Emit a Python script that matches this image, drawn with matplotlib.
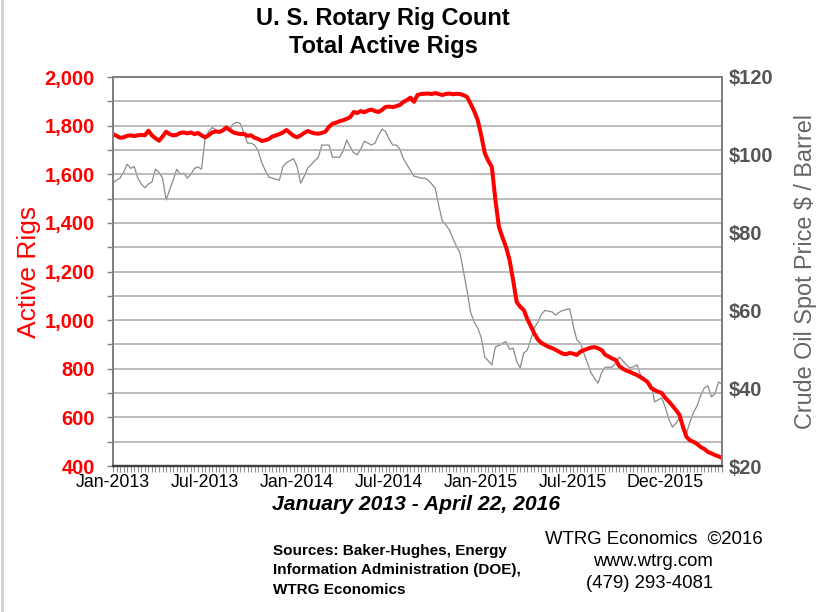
import matplotlib
matplotlib.use("Agg")
import matplotlib.pyplot as plt
import matplotlib.dates as mdates
from matplotlib import font_manager
from matplotlib.lines import Line2D
import pandas as pd

plt.rcParams["font.family"] = ["Liberation Sans", "DejaVu Sans"]

# weekly U.S. rotary rig count, Jan 4 2013 .. Apr 22 2016
rig_count = [
    1765, 1758, 1750, 1752, 1758, 1760, 1757, 1760, 1762, 1760,
    1779, 1760, 1748, 1738, 1755, 1775, 1765, 1760, 1762, 1770,
    1772, 1768, 1772, 1765, 1770, 1760, 1752, 1760, 1772, 1776,
    1774, 1780, 1792, 1782, 1772, 1768, 1765, 1766, 1758, 1760,
    1750, 1745, 1737, 1740, 1745, 1755, 1760, 1765, 1772, 1782,
    1770, 1758, 1752, 1760, 1770, 1778, 1772, 1768, 1767, 1770,
    1775, 1795, 1808, 1812, 1818, 1822, 1828, 1835, 1856, 1852,
    1860, 1855, 1862, 1866, 1860, 1856, 1865, 1877, 1878, 1876,
    1880, 1885, 1897, 1905, 1915, 1898, 1926, 1930, 1931, 1932,
    1930, 1934, 1930, 1926, 1930, 1932, 1929, 1931, 1930, 1925,
    1918, 1890, 1860, 1823, 1760, 1687, 1655, 1630, 1494, 1383,
    1340, 1301, 1247, 1165, 1075, 1055, 1042, 1005, 975, 945,
    920, 906, 898, 890, 885, 878, 870, 862, 860, 865,
    862, 857, 870, 877, 882, 887, 889, 884, 877, 858,
    850, 842, 836, 811, 800, 792, 787, 780, 774, 765,
    756, 745, 721, 712, 705, 700, 680, 665, 648, 630,
    610, 560, 519, 505, 499, 490, 478, 470, 458, 452,
    445, 440, 433,
]

# weekly crude oil spot price, $ / barrel
oil_price = [
    92.7, 93.5, 94.0, 95.5, 97.6, 96.5, 97.0, 94.0, 92.5, 91.5,
    92.5, 93.0, 96.3, 95.5, 94.0, 88.4, 91.0, 93.5, 96.3, 95.0,
    95.3, 94.0, 95.0, 96.5, 96.9, 96.3, 104.0, 106.0, 107.0, 106.5,
    105.6, 106.0, 106.9, 106.5, 108.0, 108.4, 108.0, 105.5, 103.0, 103.0,
    102.5, 101.0, 98.0, 96.0, 94.3, 94.0, 93.7, 93.5, 97.0, 98.0,
    98.5, 99.0, 97.0, 92.7, 94.5, 96.6, 97.5, 98.5, 99.4, 102.5,
    102.5, 102.5, 99.4, 99.4, 99.4, 101.0, 103.8, 102.0, 100.5, 100.0,
    101.5, 103.5, 103.0, 102.5, 103.0, 105.0, 106.6, 106.0, 104.0, 102.5,
    102.5, 101.5, 99.0, 97.5, 96.0, 94.5, 94.3, 94.0, 94.0, 93.5,
    92.5, 91.5, 87.0, 83.0, 82.0, 80.7, 78.5, 76.5, 74.8, 70.0,
    65.0, 59.5, 57.0, 55.5, 53.0, 48.0, 47.0, 46.0, 50.6, 51.0,
    51.5, 52.0, 50.0, 50.3, 47.0, 45.2, 49.0, 49.8, 52.5, 55.5,
    57.0, 59.0, 60.0, 59.8, 59.6, 58.8, 59.5, 60.0, 60.2, 60.4,
    56.0, 52.4, 51.6, 49.0, 46.5, 44.0, 42.5, 41.3, 44.0, 45.4,
    45.4, 45.4, 46.5, 48.0, 47.0, 46.0, 45.2, 45.5, 46.0, 43.4,
    42.5, 41.5, 40.8, 36.5, 37.0, 37.5, 35.0, 32.0, 30.0, 31.0,
    32.3, 30.5, 28.5, 31.5, 33.9, 35.5, 38.2, 40.0, 40.6, 37.8,
    38.5, 41.6, 41.0,
]

tick_dates = ["2013-01-04", "2013-07-05", "2014-01-03", "2014-07-03",
              "2015-01-02", "2015-07-02", "2015-12-31"]
tick_labels = ["Jan-2013", "Jul-2013", "Jan-2014", "Jul-2014",
               "Jan-2015", "Jul-2015", "Dec-2015"]

rig_dates = pd.date_range("2013-01-04", periods=len(rig_count), freq="7D")
oil_dates = pd.date_range("2013-01-04", periods=len(oil_price), freq="7D")

# narrow bold face for the title if the system has it
installed = {f.name for f in font_manager.fontManager.ttflist}
if "Liberation Sans Narrow" in installed:
    title_font = dict(family="Liberation Sans Narrow", fontsize=21, fontweight="bold")
else:
    title_font = dict(family="Liberation Sans", fontsize=17, fontweight="bold")

fig = plt.figure(figsize=(8.32, 6.12), dpi=100)
fig.patch.set_facecolor("white")
ax = fig.add_axes([113 / 832, 1 - 466 / 612, 609 / 832, 389 / 612])
ax2 = ax.twinx()

# oil price (thin gray) on the right axis, rig count (thick red) on top
ax2.plot(oil_dates, oil_price, color="#8a8a8a", lw=0.9)
ax.plot(rig_dates, rig_count, color="#ff0000", lw=2.9, solid_joinstyle="round")
ax.set_zorder(ax2.get_zorder() + 1)
ax.patch.set_visible(False)

ax.set_xlim(rig_dates[0], rig_dates[-1])
ax.set_ylim(400, 2000)
ax.set_yticks(range(400, 2001, 100))
ax.set_yticklabels([f"{v:,}" if v % 200 == 0 else "" for v in range(400, 2001, 100)])
ax.grid(axis="y", color="#a8a8a8", lw=1.1)
ax.set_axisbelow(True)
ax.tick_params(axis="y", direction="out", length=4, width=1, color="#808080",
               labelcolor="#ff0000", labelsize=14.5, pad=9)
for t in ax.get_yticklabels():
    t.set_fontweight("bold")
ax.set_ylabel("Active Rigs", color="#ff0000", fontsize=19, labelpad=3)

ax.set_xticks(pd.to_datetime(tick_dates))
ax.set_xticklabels(tick_labels)
ax.xaxis.set_minor_locator(mdates.WeekdayLocator(byweekday=mdates.FR))
ax.tick_params(axis="x", which="both", direction="out", length=4, width=0.8,
               color="#909090", labelsize=12.8, pad=2)

ax2.set_ylim(20, 120)
ax2.set_yticks(range(20, 121, 20))
ax2.set_yticklabels([f"${v}" for v in range(20, 121, 20)])
ax2.tick_params(axis="y", length=0, labelcolor="#555555", labelsize=14.5, pad=5)
for t in ax2.get_yticklabels():
    t.set_fontweight("bold")
ax2.set_ylabel("Crude Oil Spot Price $ / Barrel", color="#666666", fontsize=16.8,
               labelpad=15)

for a in (ax, ax2):
    for side in ("top", "right", "left"):
        a.spines[side].set_color("#808080")
        a.spines[side].set_linewidth(1.4)
    a.spines["bottom"].set_color("#404040")
    a.spines["bottom"].set_linewidth(1.6)

# titles and notes
fig.text(383 / 832, 1 - 19 / 612, "U. S. Rotary Rig Count", ha="center", va="center",
         **title_font)
fig.text(383 / 832, 1 - 47 / 612, "Total Active Rigs", ha="center", va="center",
         **title_font)
fig.text(416 / 832, 1 - 504 / 612, "January 2013 - April 22, 2016", ha="center",
         va="center", fontsize=15.2, fontweight="bold", fontstyle="italic")
fig.text(654 / 832, 1 - 539 / 612, "WTRG Economics  \u00a92016", ha="center",
         va="center", fontsize=13.4)
fig.text(653 / 832, 1 - 562 / 612, "www.wtrg.com", ha="center", va="center",
         fontsize=13.4)
fig.text(650 / 832, 1 - 583 / 612, "(479) 293-4081", ha="center", va="center",
         fontsize=13.4)
fig.text(273 / 832, 1 - 570 / 612,
         "Sources: Baker-Hughes, Energy\nInformation Administration (DOE),\nWTRG Economics",
         ha="left", va="center", fontsize=11, fontweight="bold", linespacing=1.5)

fig.add_artist(Line2D([1.5 / 832, 1.5 / 832], [0, 1], color="#d0d0d0", lw=2))

fig.savefig("out.png", dpi=100)
